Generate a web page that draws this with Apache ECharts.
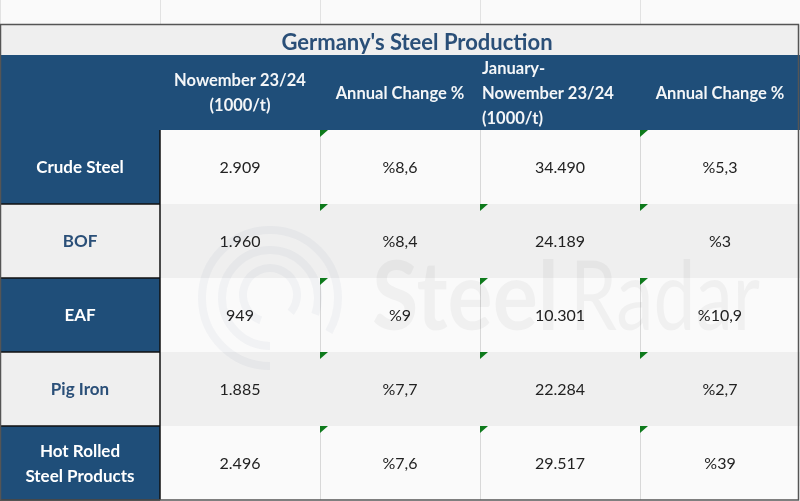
<!DOCTYPE html>
<html>
<head>
<meta charset="utf-8">
<style>html,body{margin:0;padding:0;background:#fff}#main{width:800px;height:501px}</style>
<script src="https://cdn.jsdelivr.net/npm/echarts@6/dist/echarts.min.js"></script>
</head>
<body>
<div id="main"></div>
<script>
const titleText = "Germany's Steel Production";
const columns = ['Product', 'Month', 'MonthChange', 'Period', 'PeriodChange'];
const headerLabels = ['', 'Nowember 23/24\n(1000/t)', 'Annual Change %', 'January-\nNowember 23/24\n(1000/t)', 'Annual Change %'];
const products = ['Crude Steel', 'BOF', 'EAF', 'Pig Iron', 'Hot Rolled\nSteel Products'];
const monthValues = ['2.909', '1.960', '949', '1.885', '2.496'];
const monthChanges = ['%8,6', '%8,4', '%9', '%7,7', '%7,6'];
const periodValues = ['34.490', '24.189', '10.301', '22.284', '29.517'];
const periodChanges = ['%5,3', '%3', '%10,9', '%2,7', '%39'];
const flaggedCols = [[2, 4], [2, 3, 4], [2, 3, 4], [2, 3, 4], [2, 3, 4]];

const NAVY = '#1f4e79';
const FONT = 'Lato, "Noto Sans", sans-serif';

let bodyCols = [products, monthValues, monthChanges, periodValues, periodChanges];
let bodyData = [];
bodyCols.forEach(function (col, c) {
    col.forEach(function (txt, r) {
        bodyData.push([c, r, txt]);
    });
});
let headerData = headerLabels.map(function (txt, c) { return [c, 0, txt]; });

function renderBody(params, api) {
    let c = api.value(0), r = api.value(1);
    let p = api.coord([c, r]), s = api.size([1, 1]);
    let x = p[0] - s[0] / 2, y = p[1] - s[1] / 2;
    let shaded = r % 2 == 1;
    let fill = shaded ? '#efefef' : '#fafafa';
    if (c == 0 && !shaded) fill = NAVY;
    let kids = [{
        type: 'rect',
        shape: { x: x, y: y, width: s[0], height: s[1] },
        style: { fill: fill }
    }, {
        type: 'text',
        style: {
            x: p[0], y: p[1] + 1,
            text: bodyData[params.dataIndex][2],
            align: 'center', verticalAlign: 'middle',
            font: (c == 0 ? 'bold 17px ' : '16px ') + FONT,
            lineHeight: 25,
            fill: c == 0 ? (shaded ? '#2a4f78' : '#fff') : '#222'
        },
        z2: 5
    }];
    if (c >= 2 && !shaded) {
        kids.push({
            type: 'line',
            shape: { x1: x + 0.5, y1: y, x2: x + 0.5, y2: y + s[1] },
            style: { stroke: '#d8d8d8', lineWidth: 1 },
            z2: 3
        });
    }
    if (c == 0) {
        kids.push({
            type: 'line',
            shape: { x1: x, y1: y + s[1], x2: x + s[0], y2: y + s[1] },
            style: { stroke: '#111', lineWidth: 1.5 },
            z2: 3
        });
        kids.push({
            type: 'line',
            shape: { x1: x + s[0], y1: y, x2: x + s[0], y2: y + s[1] },
            style: { stroke: '#111', lineWidth: 1.5 },
            z2: 3
        });
    }
    if (flaggedCols[r].indexOf(c) >= 0) {
        kids.push({
            type: 'polygon',
            shape: { points: [[x, y], [x + 8, y], [x, y + 7]] },
            style: { fill: '#0e7a1c' },
            z2: 4
        });
    }
    return { type: 'group', children: kids };
}

function renderHeader(params, api) {
    let c = api.value(0);
    let p = api.coord([c, 0]), s = api.size([1, 1]);
    let x = p[0] - s[0] / 2, y = p[1] - s[1] / 2;
    let leftAligned = headerData[params.dataIndex][2].indexOf('January') == 0;
    return {
        type: 'group',
        children: [{
            type: 'rect',
            shape: { x: x, y: y, width: s[0] + 1, height: s[1] },
            style: { fill: NAVY }
        }, {
            type: 'text',
            style: {
                x: leftAligned ? x + 2 : p[0],
                y: p[1] + 1,
                text: headerData[params.dataIndex][2],
                align: leftAligned ? 'left' : 'center',
                verticalAlign: 'middle',
                font: 'bold 16.5px ' + FONT,
                lineHeight: 25,
                fill: '#f4f6f8'
            },
            z2: 5
        }]
    };
}

const grids = [
    { left: 0, width: 800, top: 0, height: 24, show: true, backgroundColor: '#fafafa', borderWidth: 0 },
    { left: 0, width: 800, top: 25, height: 30, show: true, backgroundColor: '#efefef', borderWidth: 0 },
    { left: 0, width: 800, top: 55, height: 75, show: false },
    { left: 0, width: 800, top: 130, height: 370, show: false }
];

function hiddenX(i) {
    return {
        type: 'category', gridIndex: i, data: columns,
        axisLine: { show: false }, axisTick: { show: false }, axisLabel: { show: false },
        splitLine: { show: i == 0, lineStyle: { color: '#e2e2e2', width: 1 } }
    };
}
function hiddenY(i, data) {
    return { type: 'category', gridIndex: i, inverse: true, data: data, show: false };
}

const wmColor = 'rgba(40,70,110,0.045)';
function ring(r, cy, from, to) {
    return {
        type: 'arc', silent: true, z: 20,
        shape: { cx: 270, cy: cy, r: r, startAngle: from * Math.PI / 180, endAngle: to * Math.PI / 180, clockwise: true },
        style: { stroke: wmColor, lineWidth: 8, fill: null }
    };
}
function wmWord(word, weight, x, sx) {
    return {
        type: 'text', silent: true, z: 20, x: x, y: 251, scaleX: sx,
        style: { text: word, font: weight + ' 96px ' + FONT, fill: 'rgba(0,0,0,0.04)' }
    };
}

let chart = echarts.init(document.getElementById('main'));
chart.setOption({
    animation: false,
    backgroundColor: '#fff',
    title: {
        text: titleText, left: 412, top: 27, textAlign: 'center',
        textStyle: { fontFamily: FONT, fontSize: 22, fontWeight: 'bold', color: '#2a4f78' }
    },
    grid: grids,
    xAxis: [hiddenX(0), hiddenX(1), hiddenX(2), hiddenX(3)],
    yAxis: [hiddenY(0, ['']), hiddenY(1, ['']), hiddenY(2, ['']), hiddenY(3, products)],
    series: [{
        type: 'custom', xAxisIndex: 2, yAxisIndex: 2, renderItem: renderHeader, data: headerData, clip: false
    }, {
        type: 'custom', xAxisIndex: 3, yAxisIndex: 3, renderItem: renderBody, data: bodyData, clip: false
    }],
    graphic: [
        ring(68, 298, 90, 390), ring(48, 298, 90, 380), ring(27, 295, 110, 400),
        wmWord('Steel', 'bold', 372, 0.88),
        wmWord('Radar', 'normal', 570, 0.78),
        {
            type: 'rect', silent: true, z: 30,
            shape: { x: 0.5, y: 24.5, width: 798, height: 475.5 },
            style: { fill: null, stroke: '#555', lineWidth: 1.5 }
        }
    ]
});
</script>
</body>
</html>
